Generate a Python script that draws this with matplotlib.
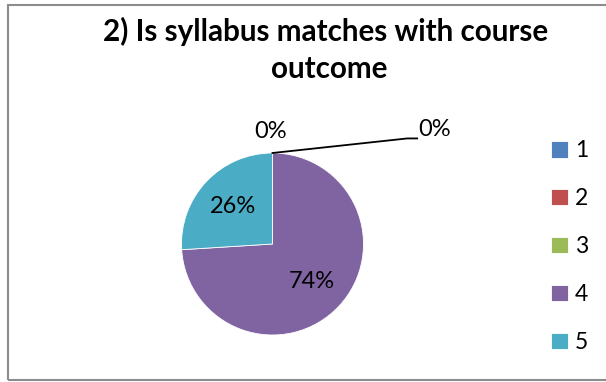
import matplotlib.pyplot as plt
from matplotlib.patches import Rectangle

plt.rcParams['font.family'] = ['Lato', 'DejaVu Sans']

# data
categories = ['1', '2', '3', '4', '5']
values = [0, 0, 0, 74, 26]
colors = ['#4F81BD', '#C0504D', '#9BBB59', '#8064A2', '#4BACC6']
title_lines = ['2) Is syllabus matches with course', 'outcome']

fig = plt.figure(figsize=(6.06, 3.82), dpi=100)
W, H = 606, 382

# outer chart border
fig.patches.append(Rectangle((7.5 / W, 2 / H), 700 / W, (380 - 4.5) / H,
                             transform=fig.transFigure, fill=False,
                             edgecolor='#8c8c8c', linewidth=1.5))

fig.text(326 / W, 1 - 31 / H, title_lines[0],
         ha='center', va='center', fontsize=21.3, fontweight='bold')
fig.text(329 / W, 1 - 69 / H, title_lines[1],
         ha='center', va='center', fontsize=21.3, fontweight='bold')

cx, cy, r = 272.5, 244, 91
ax = fig.add_axes([(cx - r) / W, (H - cy - r) / H, 2 * r / W, 2 * r / H])


def pct(p):
    return '' if p < 0.5 else '%d%%' % round(p)


wedges, texts, autotexts = ax.pie(values, colors=colors, startangle=90,
                                  counterclock=False, autopct=pct,
                                  pctdistance=0.6,
                                  wedgeprops=dict(linewidth=0.6, edgecolor='white'),
                                  textprops=dict(fontsize=17, color='black'))
ax.set_xlim(-1, 1)
ax.set_ylim(-1, 1)

# labels for zero slices
ax.text(-0.02, 1.24, '0%', ha='center', va='center', fontsize=17)
ax.plot([0, 1.48, 1.59], [1.0, 1.16, 1.16], color='black', lw=1.3, clip_on=False)
ax.text(1.60, 1.26, '0%', ha='left', va='center', fontsize=17)

leg = ax.legend(wedges, categories, loc='upper left',
                bbox_to_anchor=(540 / W, 1 - 129 / H), bbox_transform=fig.transFigure,
                frameon=False, fontsize=16.5, handlelength=0.72, handleheight=0.72,
                handletextpad=0.3, labelspacing=1.17, borderpad=0)

fig.savefig('out.png', dpi=100)
